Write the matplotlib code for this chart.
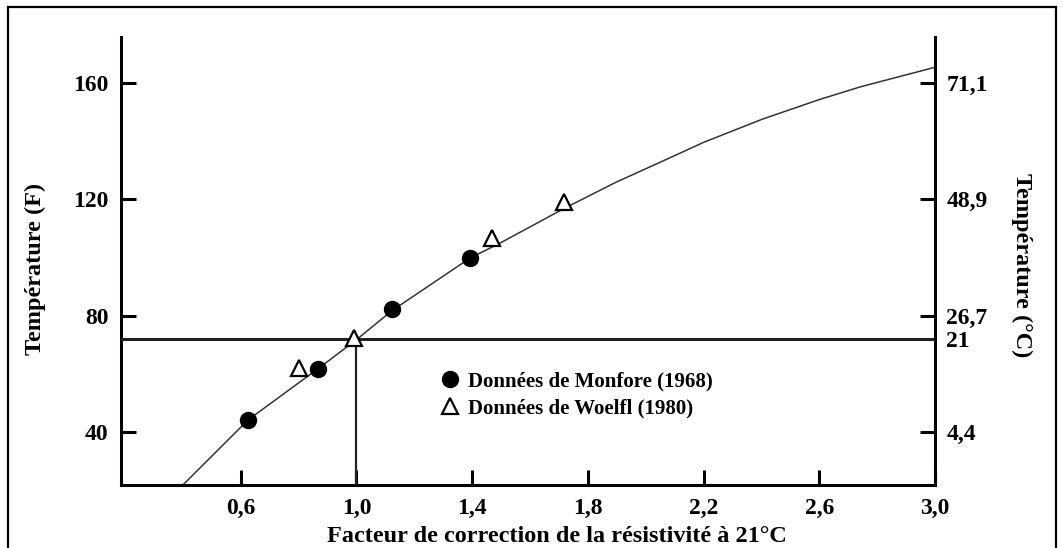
import numpy as np
import matplotlib
matplotlib.use('Agg')
import matplotlib.pyplot as plt
from matplotlib.patches import Rectangle

# valeurs (F en ordonnée, facteur en abscisse)
monfore_x = [0.626, 0.868, 1.123, 1.392]
monfore_y = [44.3, 61.9, 82.3, 99.8]
woelfl_x = [0.80, 0.99, 1.468, 1.718]
woelfl_y = [62.0, 72.4, 106.8, 119.2]
curve_x = [0.40, 0.626, 0.868, 1.0, 1.123, 1.392, 1.50, 1.72, 1.895, 2.066, 2.2, 2.404, 2.6, 2.743, 3.0]
curve_y = [21.9, 44.3, 61.9, 71.8, 81.8, 99.8, 105.2, 117.0, 125.8, 133.5, 139.6, 147.6, 154.3, 158.7, 165.4]
ref_factor = 1.0
ref_temp_f = 71.9          # ligne des 21 °C

x_ticks = [0.6, 1.0, 1.4, 1.8, 2.2, 2.6, 3.0]
x_ticklabels = ['0,6', '1,0', '1,4', '1,8', '2,2', '2,6', '3,0']
yf_ticks = [40, 80, 120, 160]
yc_ticks = [40, ref_temp_f, 80, 120, 160]
yc_labels = ['4,4', '21', '26,7', '48,9', '71,1']

plt.rcParams['font.family'] = ['Liberation Serif', 'DejaVu Serif']
plt.rcParams['font.weight'] = 'bold'
FS = 17

fig = plt.figure(figsize=(10.63, 5.48), dpi=100)
ax = fig.add_axes([0.1138, 0.1150, 0.7658, 0.8175])

ax.plot(curve_x, curve_y, color='#333333', lw=1.1, zorder=2)
ax.plot(monfore_x, monfore_y, 'o', color='black', ms=11.5, ls='none',
        label='Données de Monfore (1968)', zorder=4)
ax.plot(woelfl_x, woelfl_y, '^', mfc='white', mec='black', mew=1.6, ms=11,
        ls='none', label='Données de Woelfl (1980)', zorder=4)

ax.axhline(ref_temp_f, color='#222222', lw=2.2, zorder=3)
ax.plot([ref_factor, ref_factor], [21.9, ref_temp_f], color='#222222', lw=1.6, zorder=3)

ax.set_xlim(0.186, 3.0)
ax.set_ylim(21.9, 175.8)
ax.spines['top'].set_visible(False)
ax.spines['right'].set_visible(False)
for s in ('left', 'bottom'):
    ax.spines[s].set_linewidth(2.2)
ax.set_xticks(x_ticks)
ax.set_xticklabels(x_ticklabels)
ax.set_yticks(yf_ticks)
ax.tick_params(direction='in', length=11, width=2.2, labelsize=FS, pad=9)

ax.set_xlabel('Facteur de correction de la résistivité à 21°C', fontsize=17.5, fontweight='bold')
ax.xaxis.set_label_coords(0.536, -0.092)
ax.set_ylabel('Température (F)', fontsize=17.5, fontweight='bold')
ax.yaxis.set_label_coords(-0.092, 0.482)

ax2 = ax.twinx()
ax2.set_ylim(ax.get_ylim())
ax2.spines['top'].set_visible(False)
ax2.spines['left'].set_visible(False)
ax2.spines['bottom'].set_visible(False)
ax2.spines['right'].set_linewidth(2.2)
ax2.set_yticks(yc_ticks)
ax2.set_yticklabels(yc_labels)
ax2.tick_params(direction='in', length=11, width=2.2, labelsize=FS, pad=8)
ax2.yaxis.get_major_ticks()[1].tick2line.set_visible(False)
ax2.set_ylabel('Température (°C)', fontsize=17.5, fontweight='bold', rotation=-90, va='center')
ax2.yaxis.set_label_coords(1.1065, 0.491)

ax.legend(loc='upper left', bbox_to_anchor=(0.378, 0.272), frameon=False,
          fontsize=15, handletextpad=0.3, labelspacing=0.32, borderaxespad=0,
          handlelength=1.2)

fig.add_artist(Rectangle((8 / 1063, -0.02), 1048 / 1063, 1.02 - 7 / 548,
                         transform=fig.transFigure, fill=False, lw=1.6, color='black'))

fig.savefig('out.png', dpi=100)
